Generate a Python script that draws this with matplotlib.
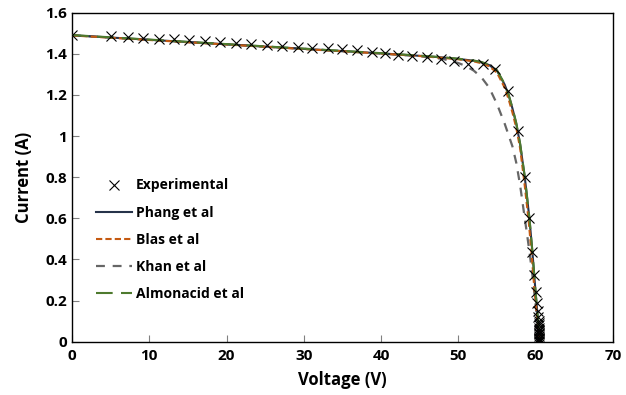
import matplotlib
matplotlib.use("Agg")
import matplotlib.pyplot as plt

plt.rcParams['font.family'] = ['Open Sans', 'DejaVu Sans']
plt.rcParams['font.weight'] = 'bold'

# experimental I-V points
exp_v = [0, 5, 7.3, 9.2, 11.2, 13.2, 15.2, 17.2, 19.2, 21.2, 23.2, 25.2, 27.2, 29.2,
         31.1, 33.1, 35.0, 36.9, 38.8, 40.5, 42.2, 44.0, 45.9, 47.7, 49.5, 51.3, 53.2,
         54.8, 56.4, 57.7, 58.6, 59.2, 59.5, 59.8, 60.1, 60.2, 60.3, 60.3, 60.4, 60.4,
         60.4, 60.5, 60.5, 60.5, 60.5, 60.5, 60.5, 60.5, 60.4, 60.5, 60.4, 60.5]
exp_i = [1.490, 1.487, 1.483, 1.479, 1.474, 1.470, 1.466, 1.461, 1.457, 1.452, 1.448,
         1.444, 1.440, 1.435, 1.430, 1.426, 1.421, 1.416, 1.411, 1.403, 1.396, 1.391,
         1.385, 1.376, 1.365, 1.352, 1.348, 1.326, 1.217, 1.023, 0.800, 0.600, 0.435,
         0.326, 0.240, 0.186, 0.150, 0.120, 0.100, 0.080, 0.065, 0.050, 0.040, 0.030,
         0.020, 0.012, 0.005, 0.000, 0.090, 0.055, 0.035, 0.015]

# model curves
phang_v = [0, 5, 10, 15, 20, 25, 30, 35, 40, 45, 48, 50, 52, 53, 54, 55, 56, 56.5,
           57, 57.5, 58, 58.6, 59.2, 59.6, 60, 60.3, 60.55]
phang_i = [1.490, 1.479, 1.468, 1.457, 1.446, 1.435, 1.424, 1.413, 1.402, 1.390, 1.382,
           1.375, 1.366, 1.358, 1.345, 1.318, 1.250, 1.200, 1.135, 1.060, 0.960, 0.800,
           0.600, 0.430, 0.240, 0.110, 0.000]

blas_v = [0, 5, 10, 15, 20, 25, 30, 35, 40, 45, 48, 50, 52, 53, 54, 55, 56, 56.5,
          57, 57.5, 58, 58.5, 59.1, 59.5, 59.9, 60.25, 60.5]
blas_i = [1.489, 1.478, 1.467, 1.456, 1.445, 1.434, 1.423, 1.412, 1.401, 1.389, 1.380,
          1.373, 1.363, 1.354, 1.339, 1.308, 1.235, 1.180, 1.115, 1.040, 0.940, 0.790,
          0.590, 0.420, 0.230, 0.100, 0.000]

khan_v = [0, 10, 20, 30, 40, 45, 48, 50, 51, 52, 53, 54, 55, 56, 57, 57.5, 58, 58.6,
          59.2, 59.6, 60, 60.3, 60.55]
khan_i = [1.490, 1.468, 1.446, 1.424, 1.401, 1.388, 1.375, 1.355, 1.340, 1.318, 1.285,
          1.235, 1.156, 1.060, 0.950, 0.870, 0.760, 0.600, 0.440, 0.320, 0.180, 0.080,
          0.000]

alm_v = [0, 5, 10, 15, 20, 25, 30, 35, 40, 45, 48, 50, 52, 53, 54, 55, 56, 56.5,
         57, 57.5, 58, 58.6, 59.2, 59.6, 60, 60.3, 60.55]
alm_i = [1.491, 1.480, 1.469, 1.458, 1.447, 1.436, 1.425, 1.414, 1.403, 1.391, 1.383,
         1.376, 1.367, 1.360, 1.347, 1.320, 1.253, 1.203, 1.138, 1.063, 0.963, 0.803,
         0.603, 0.433, 0.243, 0.113, 0.000]

fig = plt.figure(figsize=(6.26, 3.95), dpi=100)
ax = fig.add_axes([0.115, 0.135, 0.864, 0.833])

ax.plot(phang_v, phang_i, color='#26334a', lw=1.5, label='Phang et al', zorder=3)
ax.plot(blas_v, blas_i, color='#c55a11', lw=1.5, dashes=(3, 1.5), label='Blas et al', zorder=4)
ax.plot(khan_v, khan_i, color='#666666', lw=1.6, dashes=(4, 3.5), label='Khan et al', zorder=2)
ax.plot(alm_v, alm_i, color='#4e7a2e', lw=1.5, dashes=(8, 4), label='Almonacid et al', zorder=5)
ax.plot(exp_v, exp_i, ls='none', marker='x', ms=7.5, mew=0.8, color='black',
        label='Experimental', zorder=6)

ax.set_xlim(0, 70)
ax.set_ylim(0, 1.6)
ax.set_xticks(range(0, 71, 10))
ax.set_yticks([0, 0.2, 0.4, 0.6, 0.8, 1.0, 1.2, 1.4, 1.6])
ax.set_yticklabels(['0', '0.2', '0.4', '0.6', '0.8', '1', '1.2', '1.4', '1.6'])
ax.tick_params(direction='in', length=5, width=0.8, labelsize=11, color='#808080')
ax.tick_params(axis='x', pad=5)
for s in ax.spines.values():
    s.set_linewidth(1.0)
ax.set_xlabel('Voltage (V)', fontsize=12, fontweight='bold', labelpad=6)
ax.set_ylabel('Current (A)', fontsize=12, fontweight='bold', labelpad=9)

h, l = ax.get_legend_handles_labels()
order = [4, 0, 1, 2, 3]
ax.legend([h[i] for i in order], [l[i] for i in order], loc='upper left',
          bbox_to_anchor=(0.044, 0.496), frameon=False, borderpad=0, borderaxespad=0,
          handlelength=2.6, handletextpad=0.3, labelspacing=0.95,
          prop={'weight': 'bold', 'size': 10})

fig.savefig('out.png', dpi=100)
